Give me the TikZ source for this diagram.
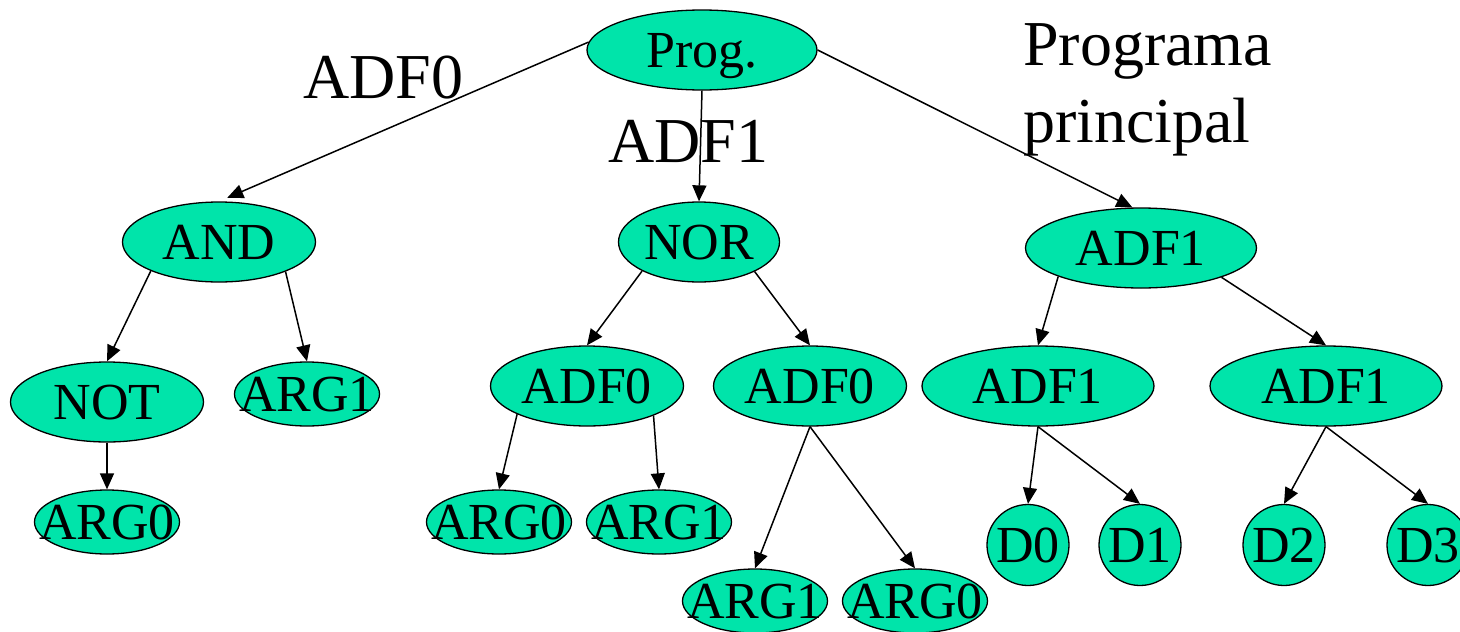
\documentclass[tikz,border=0pt]{standalone}
\usepackage{fontspec}
\setmainfont{Liberation Serif}
\newfontfamily\tnr{Liberation Serif}
\usetikzlibrary{shapes.geometric,arrows.meta}
\definecolor{nodefill}{RGB}{0,228,170}
\begin{document}
\begin{tikzpicture}[x=1pt,y=-1pt,
  tnode/.style={ellipse, draw=black, line width=1.3pt, fill=nodefill,
    inner sep=0pt, text height=34pt, text depth=0pt,
    font=\tnr\fontsize{52}{60}\selectfont,
    execute at begin node={\hbox to 0pt\bgroup\hss},
    execute at end node={\hss\egroup}},
  wide/.style={tnode, minimum width=#1, minimum height=80pt},
  arg/.style={tnode, minimum width=145pt, minimum height=64pt},
  leaf/.style={tnode, minimum width=82pt, minimum height=81pt},
  link/.style={-{Triangle[length=16pt,width=14pt]}, line width=1.5pt},
  caption/.style={anchor=base west, inner sep=0pt,
    font=\tnr\fontsize{64}{77}\selectfont}]
\useasboundingbox (0,0) rectangle (1460,632);

% captions
\node[caption] (capA) at (303,98) {ADF0};
\node[caption] (capB) at (608,162) {ADF1};
\node[caption] (capC) at (1023,65) {Programa};
\node[caption] (capD) at (1023,142) {principal};

% root
\node[wide=230pt] (prog) at (702,50) {Prog.};

% level 1
\node[wide=193pt] (and) at (219,242) {AND};
\node[wide=161pt] (nor) at (699,242) {NOR};
\node[wide=231pt] (adfR) at (1141,248) {ADF1};

% level 2
\node[wide=193pt] (not) at (107,402) {NOT};
\node[arg] (argL1) at (307,394) {ARG1};
\node[wide=193pt] (adfA) at (587,386) {ADF0};
\node[wide=193pt] (adfB) at (810,386) {ADF0};
\node[wide=232pt] (adfC) at (1038,386) {ADF1};
\node[wide=232pt] (adfD) at (1326,386) {ADF1};

% level 3
\node[arg] (argL0) at (107,522) {ARG0};
\node[arg] (argM0) at (499,522) {ARG0};
\node[arg] (argM1) at (659,522) {ARG1};
\node[leaf] (d0) at (1028,545) {D0};
\node[leaf] (d1) at (1140,545) {D1};
\node[leaf] (d2) at (1284,545) {D2};
\node[leaf] (d3) at (1428,545) {D3};

% level 4
\node[arg] (argB1) at (755,601) {ARG1};
\node[arg] (argB0) at (915,601) {ARG0};

% connectors
\draw[link, shorten >=9pt] (prog.176) -- (and.north);
\draw[link] (prog.south) -- (nor.north);
\draw[link] (prog.east) -- (adfR.102);

\draw[link] (and.203.5) -- (not.north);
\draw[link] (and.336.2) -- (argL1.north);
\draw[link] (not.south) -- (argL0.north);

\draw[link] (nor.207.8) -- (adfA.north);
\draw[link] (nor.332.2) -- (adfB.north);
\draw[link] (adfA.202.8) -- (argM0.north);
\draw[link] (adfA.336.9) -- (argM1.north);
\draw[link] (adfB.south) -- (argB1.north);
\draw[link] (adfB.south) -- (argB0.north);

\draw[link] (adfR.199.5) -- (adfC.north);
\draw[link] (adfR.340.7) -- (adfD.north);
\draw[link] (adfC.south) -- (d0.north);
\draw[link] (adfC.south) -- (d1.north);
\draw[link] (adfD.south) -- (d2.north);
\draw[link] (adfD.south) -- (d3.north);
\end{tikzpicture}
\end{document}
